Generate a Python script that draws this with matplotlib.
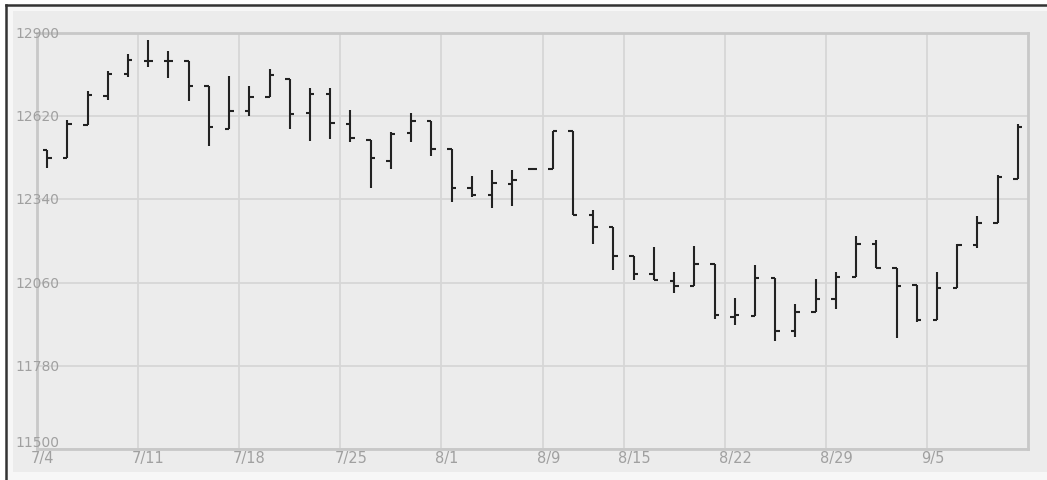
#!/usr/bin/env python
import matplotlib
matplotlib.use('Agg')
import matplotlib.pyplot as plt
from matplotlib.lines import Line2D
from matplotlib.patches import Rectangle

# daily bars, one per trading day
dates = ['7/4', '7/5', '7/6', '7/7', '7/8',
         '7/11', '7/12', '7/13', '7/14', '7/15',
         '7/18', '7/19', '7/20', '7/21', '7/22',
         '7/25', '7/26', '7/27', '7/28', '7/29',
         '8/1', '8/2', '8/3', '8/4', '8/5',
         '8/9', '8/10', '8/11', '8/12',
         '8/15', '8/16', '8/17', '8/18', '8/19',
         '8/22', '8/23', '8/24', '8/25', '8/26',
         '8/29', '8/30', '8/31', '9/1', '9/2',
         '9/5', '9/6', '9/7', '9/8', '9/9']
opens = [12505, 12479, 12590, 12689, 12761, 12807, 12806, 12805, 12723, 12578,
         12636, 12683, 12745, 12630, 12695, 12594, 12541, 12470, 12562, 12604,
         12510, 12380, 12354, 12391, 12441, 12442, 12569, 12288, 12247, 12151,
         12089, 12064, 12050, 12123, 11945, 11949, 12074, 11897, 11962, 12004,
         12080, 12190, 12108, 12052, 11934, 12042, 12188, 12261, 12409]
highs = [12505, 12608, 12706, 12773, 12830, 12875, 12838, 12805, 12723, 12756,
         12720, 12779, 12745, 12715, 12715, 12641, 12541, 12568, 12631, 12605,
         12510, 12420, 12439, 12440, 12441, 12569, 12569, 12306, 12247, 12151,
         12179, 12097, 12182, 12123, 12008, 12119, 12074, 11988, 12072, 12097,
         12216, 12205, 12108, 12052, 12097, 12190, 12283, 12423, 12594]
lows = [12446, 12479, 12590, 12673, 12751, 12784, 12749, 12672, 12521, 12578,
        12620, 12683, 12577, 12538, 12543, 12532, 12377, 12442, 12532, 12485,
        12332, 12349, 12310, 12317, 12441, 12442, 12288, 12190, 12104, 12070,
        12069, 12025, 12050, 11938, 11918, 11949, 11865, 11876, 11962, 11971,
        12080, 12108, 11875, 11926, 11934, 12042, 12175, 12261, 12409]
closes = [12479, 12595, 12690, 12761, 12810, 12807, 12806, 12723, 12583, 12636,
          12683, 12759, 12628, 12695, 12596, 12547, 12478, 12561, 12604, 12510,
          12380, 12355, 12394, 12404, 12441, 12569, 12288, 12247, 12151, 12089,
          12069, 12050, 12123, 11951, 11952, 12074, 11897, 11962, 12004, 12080,
          12190, 12108, 12050, 11934, 12042, 12188, 12261, 12414, 12582]

week_labels = ['7/4', '7/11', '7/18', '7/25', '8/1', '8/9', '8/15', '8/22',
               '8/29', '9/5']
y_ticks = [11500, 11780, 12060, 12340, 12620, 12900]

W, H = 1047, 481
fig = plt.figure(figsize=(W / 100, H / 100), dpi=100, facecolor='white')

# outer frame and panel, kept behind the axes
fig.patches.append(Rectangle((6 / W, 0), 1, 1 - 6 / H, transform=fig.transFigure,
                             facecolor='#f7f7f7', edgecolor='none', zorder=-10))
fig.patches.append(Rectangle((13 / W, 1 - 473 / H), 1, (473 - 12) / H,
                             transform=fig.transFigure, facecolor='#ececec',
                             edgecolor='none', zorder=-9))
fig.lines.append(Line2D([6 / W, 6 / W], [0, 1 - 6 / H], transform=fig.transFigure,
                        color='#333333', lw=1.8, zorder=-8))
fig.lines.append(Line2D([6 / W, 1], [1 - 6 / H, 1 - 6 / H], transform=fig.transFigure,
                        color='#333333', lw=1.8, zorder=-8))

ax = fig.add_axes([37 / W, 1 - 450 / H, 991 / W, 416 / H])
ax.set_facecolor('#ececec')
ax.set_xlim(0, len(dates))
ax.set_ylim(11500, 12900)
for sp in ax.spines.values():
    sp.set_color('#c8c8c8')
    sp.set_linewidth(2)

ax.set_yticks(y_ticks)
ax.set_xticks([dates.index(d) for d in week_labels])
ax.grid(True, color='#d6d6d6', lw=1.3)
ax.set_axisbelow(True)
ax.tick_params(length=0, labelleft=False, labelbottom=False)

# OHLC bars
xs = [i + 0.5 for i in range(len(dates))]
bar_col = '#222222'
ax.vlines(xs, lows, highs, color=bar_col, lw=1.5, zorder=3)
ax.hlines(opens, [x - 0.22 for x in xs], xs, color=bar_col, lw=1.5, zorder=3)
ax.hlines(closes, xs, [x + 0.22 for x in xs], color=bar_col, lw=1.5, zorder=3)

# y labels sit inside the plot, over the grid lines
for v in y_ticks:
    ypix = ax.transData.transform((0, v))[1]
    fig.text(15 / W, ypix / H, str(v), ha='left',
             va='bottom' if v == y_ticks[0] else 'center',
             fontsize=10, color='#a0a0a0', zorder=5)

for lab in week_labels:
    xpix = ax.transData.transform((dates.index(lab), 0))[0]
    fig.text((xpix - 6) / W, 1 - 451 / H, lab, ha='left', va='top',
             fontsize=10.5, color='#a0a0a0')

fig.savefig('out.png', dpi=100, facecolor=fig.get_facecolor())
